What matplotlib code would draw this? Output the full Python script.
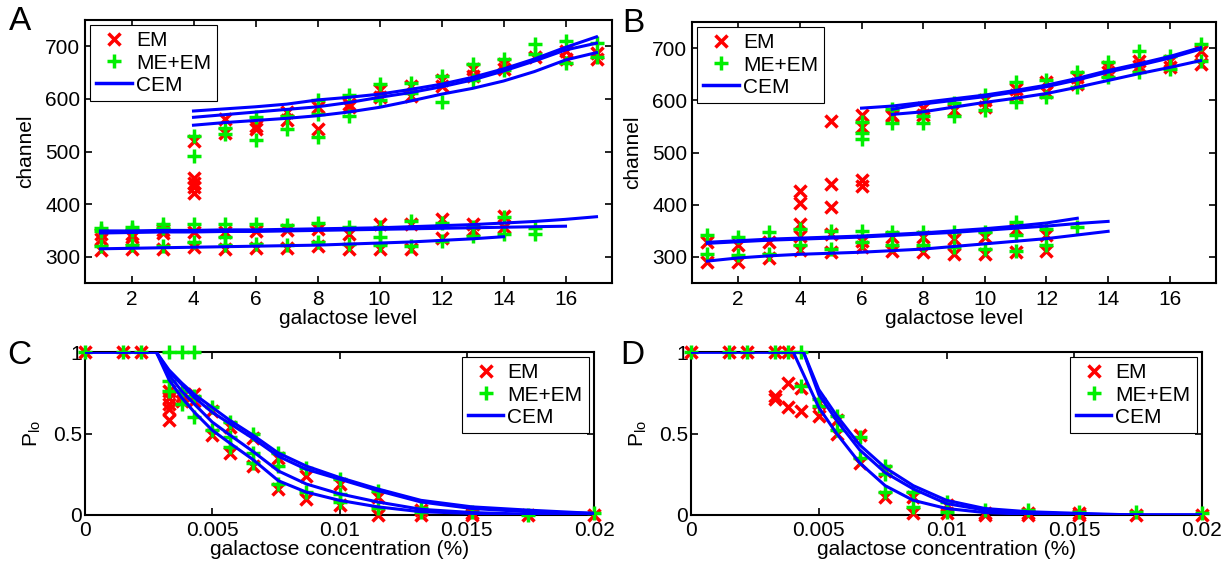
import matplotlib
matplotlib.use('Agg')
import matplotlib.pyplot as plt
from matplotlib.lines import Line2D

plt.rcParams.update({
    'font.family': ['Liberation Sans', 'DejaVu Sans'],
    'font.size': 15,
    'axes.linewidth': 1.5,
    'xtick.direction': 'in',
    'ytick.direction': 'in',
    'xtick.top': True,
    'ytick.right': True,
    'xtick.major.size': 5,
    'ytick.major.size': 5,
    'xtick.major.width': 1.2,
    'ytick.major.width': 1.2,
})

RED = '#ff0000'
GREEN = '#00ee00'
BLUE = '#0000ff'

# ---- panel A / B : channel vs galactose level ----
levels = list(range(1, 18))

a_em = [[343, 333, 313], [344, 338, 315], [350, 345, 314],
        [347, 318, 520, 450, 441, 432, 422], [347, 315, 562, 536],
        [348, 316, 549, 543], [350, 316, 575, 560], [352, 320, 585, 543],
        [343, 315, 590, 584], [362, 315, 616, 603], [362, 315, 625, 606],
        [372, 335, 635, 625], [362, 350, 657, 644], [378, 356, 666, 657],
        [679], [692, 676], [688, 676]]
a_me = [[354, 348, 321], [356, 350, 322], [362, 355, 320],
        [362, 327, 530, 492], [363, 337, 322, 545, 533],
        [363, 324, 566, 522], [360, 323, 568, 543], [365, 327, 598, 572, 528],
        [356, 324, 608, 568], [356, 337, 322, 628, 597], [368, 321, 631, 612],
        [365, 330, 644, 594], [356, 340, 666, 635], [375, 343, 676, 654],
        [355, 343, 704, 685], [711, 669], [706, 680]]
a_cem_start = [4, 4, 4, 1, 1, 1]
a_cem = [
    [577, 581, 585, 590, 598, 603, 609, 618, 628, 641, 657, 676, 698, 718],
    [565, 570, 575, 580, 585, 593, 603, 612, 623, 636, 653, 672, 693, 706],
    [550, 555, 559, 563, 568, 575, 584, 596, 609, 620, 634, 652, 674, 688],
    [349, 349, 350, 350, 351, 351, 352, 353, 354, 355, 357, 359, 361, 364, 367, 371, 376],
    [345, 346, 347, 347, 348, 348, 349, 350, 351, 352, 353, 354, 355, 356, 357, 358],
    [315, 316, 317, 318, 319, 320, 321, 322, 324, 326, 328, 331, 334, 338],
]

b_em = [[328, 290], [322, 290], [328, 297],
        [426, 404, 363, 340, 313], [561, 439, 395, 344, 309],
        [572, 548, 448, 436, 330, 319], [572, 569, 338, 312], [585, 572, 338, 309],
        [581, 335, 306], [600, 588, 338, 306], [622, 610, 354, 309],
        [635, 616, 341, 312], [644, 632], [663, 654], [676, 666],
        [676, 663], [694, 669]]
b_me = [[341, 306], [338, 303], [347, 306],
        [354, 322], [350, 316], [558, 537, 525, 350, 328],
        [584, 556, 347, 322], [569, 556, 347, 322], [594, 569, 347, 319],
        [610, 581, 347, 316], [635, 597, 366, 341, 312], [638, 607, 354, 322],
        [654, 625, 357], [673, 644], [695, 654], [685, 660], [707, 675]]
b_cem_start = [6, 7, 7, 1, 1, 1]
b_cem = [
    [585, 589, 596, 603, 610, 619, 629, 642, 657, 670, 684, 701],
    [583, 593, 600, 607, 616, 626, 639, 654, 667, 681, 698],
    [573, 578, 587, 596, 604, 613, 625, 638, 651, 663, 676],
    [328, 331, 334, 336, 338, 340, 343, 346, 350, 354, 359, 365, 374],
    [326, 329, 332, 334, 336, 338, 341, 344, 347, 351, 355, 359, 364, 368],
    [292, 298, 302, 305, 307, 309, 312, 315, 320, 325, 330, 335, 342, 349],
]

# ---- panel C / D : P_lo vs galactose concentration ----
conc = [0, 0.0015, 0.0022, 0.0033, 0.0038, 0.0043, 0.0050, 0.0057, 0.0066,
        0.0076, 0.0087, 0.0100, 0.0115, 0.0132, 0.0152, 0.0174, 0.0200]

c_em = [[1], [1], [1], [0.76, 0.72, 0.68, 0.65, 0.58], [0.73, 0.70],
        [0.74, 0.70], [0.64, 0.49], [0.54, 0.38], [0.47, 0.30], [0.35, 0.16],
        [0.24, 0.10], [0.19, 0.06], [0.11, 0.0], [0.03, 0.0], [0.01, 0.0],
        [0.0], [0.0]]
c_me = [[1], [1], [1], [1, 0.82, 0.76], [1, 0.76, 0.68], [1, 0.73, 0.60],
        [0.66, 0.52], [0.57, 0.48, 0.42], [0.50, 0.38, 0.32], [0.38, 0.30, 0.19],
        [0.29, 0.14], [0.22, 0.13, 0.08], [0.15, 0.04], [0.04, 0.02], [0.02],
        [0.0], [0.01]]
c_kink = 0.0028
c_cem = [
    [1, 1, 0.89, 0.81, 0.74, 0.66, 0.58, 0.49, 0.38, 0.30, 0.23, 0.16, 0.09, 0.05, 0.03, 0.01],
    [1, 1, 0.88, 0.80, 0.72, 0.63, 0.56, 0.47, 0.36, 0.28, 0.22, 0.15, 0.08, 0.04, 0.02, 0.01],
    [1, 1, 0.86, 0.76, 0.68, 0.57, 0.49, 0.39, 0.27, 0.19, 0.13, 0.08, 0.035, 0.015, 0.005, 0.0],
    [1, 1, 0.83, 0.72, 0.63, 0.52, 0.44, 0.34, 0.21, 0.14, 0.09, 0.05, 0.02, 0.01, 0.0, 0.0],
]

d_em = [[1], [1], [1], [1, 0.73, 0.71], [1, 0.81, 0.66], [0.78, 0.64],
        [0.69, 0.61], [0.58, 0.50], [0.49, 0.32], [0.27, 0.11], [0.11, 0.01],
        [0.06, 0.01], [0.01, 0.0], [0.01, 0.0], [0.01, 0.0], [0.0], [0.0]]
d_me = [[1], [1], [1], [1], [1], [1, 0.79], [0.71, 0.67], [0.61, 0.52],
        [0.48, 0.35], [0.30, 0.25, 0.14], [0.14, 0.05], [0.08, 0.02], [0.03],
        [0.03], [0.02], [0.02], [0.01]]
d_kink = [0.0044, 0.0044, 0.0040]
d_cem = [
    [1, 1, 0.77, 0.61, 0.43, 0.29, 0.18, 0.09, 0.04, 0.02, 0.01, 0.0, 0.0],
    [1, 1, 0.74, 0.58, 0.40, 0.26, 0.16, 0.07, 0.03, 0.015, 0.005, 0.0, 0.0],
    [1, 1, 0.66, 0.50, 0.32, 0.18, 0.09, 0.04, 0.015, 0.005, 0.0, 0.0, 0.0],
]


def scatter_groups(ax, xs, groups, marker, color, ms):
    px, py = [], []
    for x, vals in zip(xs, groups):
        for v in vals:
            px.append(x)
            py.append(v)
    ax.plot(px, py, ls='none', marker=marker, color=color, ms=ms, mew=2.5,
            clip_on=False, zorder=3)


def add_legend(ax, loc):
    handles = [
        Line2D([], [], ls='none', marker='x', color=RED, ms=8, mew=2.5),
        Line2D([], [], ls='none', marker='+', color=GREEN, ms=10, mew=2.5),
        Line2D([], [], color=BLUE, lw=2.5),
    ]
    leg = ax.legend(handles, ['EM', 'ME+EM', 'CEM'], loc=loc, fancybox=False,
                    edgecolor='black', framealpha=1, borderaxespad=0.25,
                    handlelength=1.7, handletextpad=0.2, labelspacing=0.15,
                    borderpad=0.3, fontsize=15)
    leg.get_frame().set_linewidth(0.8)
    leg.set_zorder(10)


fig = plt.figure(figsize=(12.24, 5.62), dpi=100)
W, H = 1224.0, 562.0


def make_axes(l, r, t, b):
    return fig.add_axes([l / W, 1 - b / H, (r - l) / W, (b - t) / H])


axA = make_axes(85, 612, 20, 283)
axB = make_axes(692, 1216, 22, 283)
axC = make_axes(85, 594, 352, 515)
axD = make_axes(691, 1202, 352, 515)

for ax, em, me, starts, curves in [(axA, a_em, a_me, a_cem_start, a_cem),
                                   (axB, b_em, b_me, b_cem_start, b_cem)]:
    scatter_groups(ax, levels, em, 'x', RED, 8)
    scatter_groups(ax, levels, me, '+', GREEN, 10)
    for s, vals in zip(starts, curves):
        ax.plot(levels[s - 1:s - 1 + len(vals)], vals, color=BLUE, lw=2.2, zorder=4)
    ax.set_xlim(0.5, 17.5)
    ax.set_ylim(250, 750)
    ax.set_xticks(range(2, 17, 2))
    ax.set_yticks(range(300, 701, 100))
    ax.set_xlabel('galactose level', labelpad=0)
    ax.set_ylabel('channel', labelpad=7)
    ax.tick_params(axis='x', pad=5)
    add_legend(ax, 'upper left')

scatter_groups(axC, conc, c_em, 'x', RED, 8)
scatter_groups(axC, conc, c_me, '+', GREEN, 10)
for vals in c_cem:
    axC.plot([0, c_kink] + conc[3:], vals, color=BLUE, lw=2.2, zorder=4)

scatter_groups(axD, conc, d_em, 'x', RED, 8)
scatter_groups(axD, conc, d_me, '+', GREEN, 10)
for k, vals in zip(d_kink, d_cem):
    axD.plot([0, k] + conc[6:], vals, color=BLUE, lw=2.2, zorder=4)

for ax in (axC, axD):
    ax.set_xlim(0, 0.02)
    ax.set_ylim(0, 1)
    ax.set_xticks([0, 0.005, 0.01, 0.015, 0.02])
    ax.set_xticklabels(['0', '0.005', '0.01', '0.015', '0.02'])
    ax.set_yticks([0, 0.5, 1])
    ax.set_yticklabels(['0', '0.5', '1'])
    ax.set_xlabel('galactose concentration (%)', labelpad=0)
    ax.set_ylabel(r'$\mathregular{P_{lo}}$', labelpad=7)
    ax.tick_params(axis='x', pad=4)
    ax.tick_params(axis='y', pad=2)
    add_legend(ax, 'upper right')

for letter, x, y in [('A', 20, 22), ('B', 633, 23), ('C', 19, 355), ('D', 632, 355)]:
    fig.text(x / W, 1 - y / H, letter, ha='center', va='center', fontsize=24)

fig.savefig('out.png', dpi=100)
